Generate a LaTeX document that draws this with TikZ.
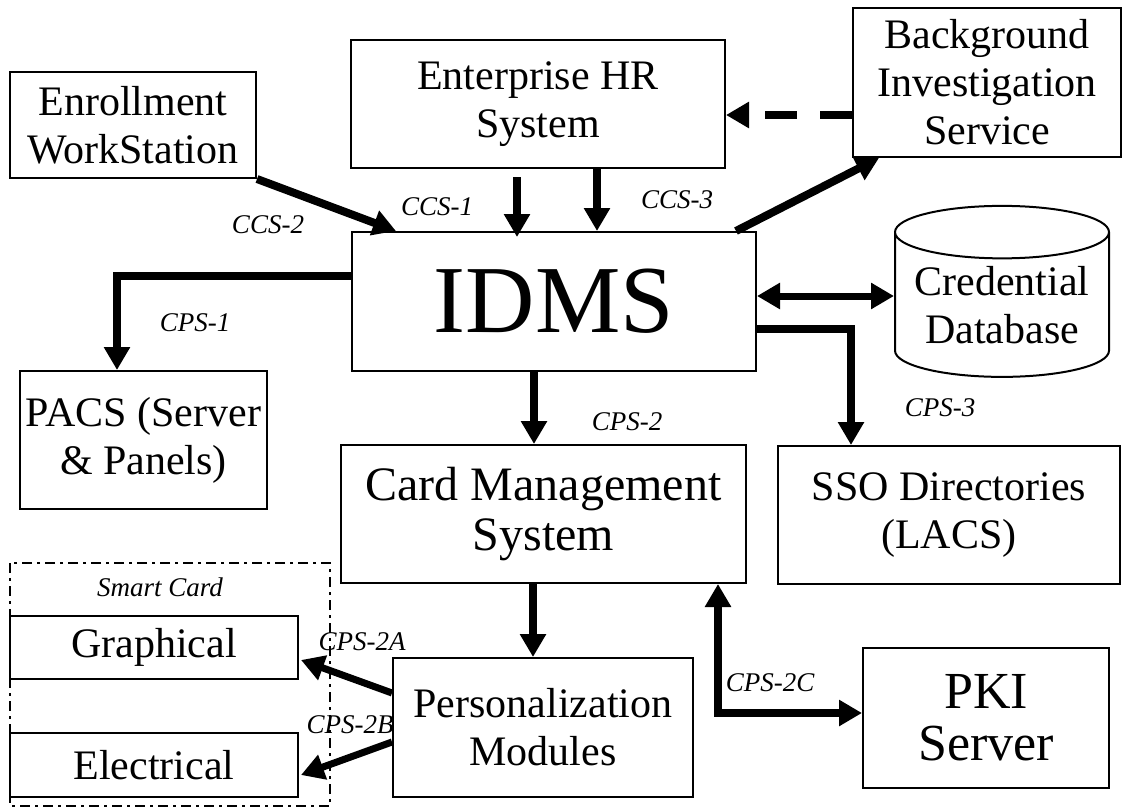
\documentclass[tikz,border=0pt]{standalone}
\usepackage{fontspec}
\setmainfont{Liberation Serif}
\usetikzlibrary{arrows.meta,calc,shapes.geometric}

\tikzset{
        box/.style={draw, line width=2pt, align=center, inner sep=0pt,
                font=\fontsize{42}{48}\selectfont},
        lbl/.style={font=\fontsize{27}{30}\selectfont\itshape},
        tip/.tip={Triangle[length=23pt,width=25pt]},
        link/.style={line width=8pt, -tip},
        twoway/.style={line width=8pt, tip-tip},
}

\begin{document}
\begin{tikzpicture}[x=1pt, y=-1pt]
        \useasboundingbox (0,0) rectangle (1123,808);

        \node[box, minimum width=246pt, minimum height=106pt] (enroll) at (133,125) {Enrollment\\WorkStation};
        \node[box, minimum width=374pt, minimum height=128pt] (hr) at (538,104) {Enterprise HR\\System};
        \node[box, minimum width=268pt, minimum height=149pt] (bis) at (987,82.5) {Background\\Investigation\\Service};

        \node[box, minimum width=404pt, minimum height=139pt, font=\fontsize{96}{96}\selectfont] (idms) at (554,301.5) {IDMS};
        \node[box, cylinder, shape border rotate=90, aspect=0.3, minimum width=214pt, minimum height=171pt] (db) at (1002,305) {Credential\\Database};

        \node[box, minimum width=247pt, minimum height=138pt] (pacs) at (143.5,440) {PACS (Server\\\& Panels)};
        \node[box, minimum width=405pt, minimum height=138pt, font=\fontsize{48}{50}\selectfont] (cms) at (543.5,514) {Card Management\\System};
        \node[box, minimum width=342pt, minimum height=138pt] (sso) at (949,515) {SSO Directories\\(LACS)};

        \node[box, minimum width=300pt, minimum height=139pt] (pm) at (543,727.5) {Personalization\\Modules};
        \node[box, minimum width=246pt, minimum height=140pt, font=\fontsize{52}{52}\selectfont] (pki) at (986,718) {PKI\\Server};

        \draw[line width=2pt, dash pattern=on 10pt off 5pt on 3pt off 5pt] (10,563) rectangle (330,806);
        \node[lbl] (smart) at (160,587) {Smart Card};
        \node[box, minimum width=288pt, minimum height=63pt] (graph) at (154,647.5) {Graphical};
        \node[box, minimum width=288pt, minimum height=64pt] (elec) at (154,765) {Electrical};

        \coordinate (dbin) at ($(idms.east)+(0,-5.5)$);

        \draw[link] (enroll.south east) -- ($(idms.north west)+(45,0)$);
        \draw[link] ($(hr.south)+(-21,8)$) -- ($(idms.north)+(-37,6)$);
        \draw[link] ($(hr.south)+(59,0)$) -- ($(idms.north)+(43,0)$);
        \draw[link] ($(idms.north east)+(-21,0)$) -- ($(bis.south west)+(27,0)$);
        \draw[link, dash pattern=on 32pt off 23pt] ($(bis.west)+(0,32.5)$) -- ($(hr.east)+(0,11)$);
        \draw[twoway, line width=7pt] (dbin) -- (dbin -| db.west);

        \draw[link] ($(idms.west)+(0,-25.5)$) -| ($(pacs.north)+(-26.5,0)$);
        \draw[link] ($(idms.east)+(0,27.5)$) -| ($(sso.north west)+(74,0)$);
        \draw[link] ($(idms.south)+(-20,0)$) -- ($(cms.north)+(-9.5,0)$);
        \draw[link] ($(cms.south)+(-10.5,0)$) -- ($(pm.north)+(-10,0)$);
        \draw[twoway] ($(cms.south east)+(-29,0)$) |- ($(pki.west)+(0,-5)$);
        \draw[link, line width=7pt] ($(pm.west)+(0,-34.5)$) -- ($(graph.east)+(2,12.5)$);
        \draw[link, line width=7pt] ($(pm.west)+(0,14.5)$) -- ($(elec.east)+(2,10)$);

        \node[lbl] (ccs2) at (268,225) {CCS-2};
        \node[lbl] (ccs1) at (437,207) {CCS-1};
        \node[lbl] (ccs3) at (677,200) {CCS-3};
        \node[lbl] (cps1) at (195,323) {CPS-1};
        \node[lbl] (cps2) at (627,422) {CPS-2};
        \node[lbl] (cps3) at (940,408) {CPS-3};
        \node[lbl] (cps2a) at (362,642) {CPS-2A};
        \node[lbl] (cps2b) at (350,725) {CPS-2B};
        \node[lbl] (cps2c) at (770,683) {CPS-2C};
\end{tikzpicture}
\end{document}
